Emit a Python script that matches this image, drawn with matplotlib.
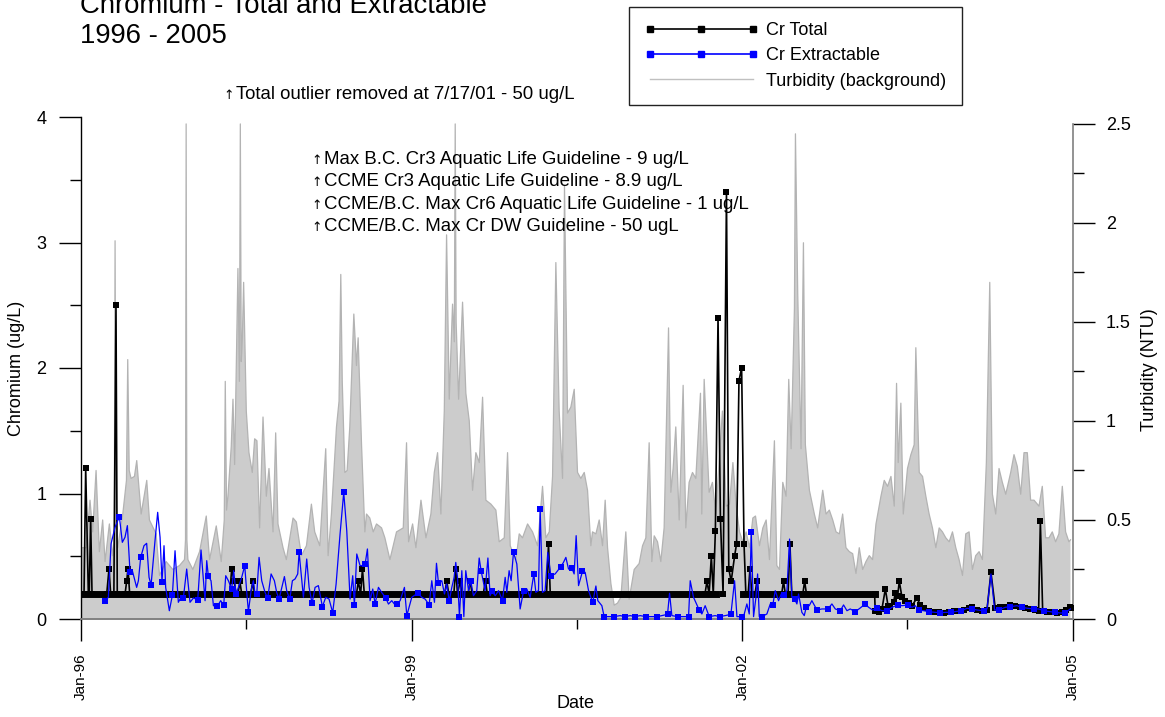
import datetime as dt
import numpy as np
import matplotlib
matplotlib.use("Agg")
import matplotlib.pyplot as plt
import matplotlib.dates as mdates
from matplotlib.lines import Line2D
from matplotlib.ticker import FixedLocator, MultipleLocator, FuncFormatter

plt.rcParams['font.family'] = ['Liberation Sans', 'DejaVu Sans']

# ---------------- data (time in months since 1 Jan 1996) ----------------
turb_month = [
    0.0, 0.55, 0.98, 1.27, 1.64, 2.0, 2.36, 2.62, 3.09, 3.45, 3.62, 3.71, 3.82, 4.0, 4.55, 4.95, 5.09, 5.25,
    5.45, 5.82, 6.07, 6.55, 7.16, 7.45, 8.18, 8.55, 9.27, 10.0, 10.73, 11.27, 11.38, 11.45, 11.53, 11.64,
    12.18, 12.91, 13.64, 14.0, 14.73, 15.27, 15.6, 15.71, 15.85, 16.0, 16.36, 16.55, 16.73, 17.09, 17.25,
    17.35, 17.45, 17.56, 17.71, 18.0, 18.29, 18.65, 18.91, 19.16, 19.45, 19.82, 20.18, 20.47, 20.91, 21.2,
    21.45, 22.0, 22.36, 23.09, 23.45, 24.0, 24.55, 25.09, 25.45, 26.0, 26.65, 26.91, 27.27, 27.82, 28.1,
    28.29, 28.45, 28.73, 28.98, 29.27, 29.71, 30.0, 30.18, 30.55, 30.91, 31.09, 31.45, 31.82, 32.18, 32.73,
    33.09, 33.64, 34.36, 35.09, 35.45, 35.67, 36.11, 36.47, 37.02, 37.56, 38.1, 38.47, 38.83, 39.19, 39.56,
    39.81, 40.1, 40.46, 40.65, 40.75, 40.85, 41.12, 41.55, 41.91, 42.28, 42.64, 43.0, 43.37, 43.73, 44.09,
    44.64, 45.18, 45.54, 46.09, 46.45, 46.74, 46.99, 47.36, 47.72, 48.08, 48.63, 49.17, 49.72, 50.26, 50.62,
    50.99, 51.35, 51.71, 52.07, 52.44, 52.65, 52.98, 53.34, 53.71, 54.07, 54.43, 54.8, 55.16, 55.52, 55.7,
    56.07, 56.43, 56.79, 57.08, 57.34, 57.7, 58.06, 58.42, 58.79, 59.33, 59.69, 60.24, 60.78, 61.15, 61.51,
    61.87, 62.16, 62.42, 62.78, 63.14, 63.5, 63.98, 64.23, 64.48, 64.77, 65.14, 65.57, 65.86, 66.22, 66.59,
    66.95, 67.46, 67.6, 67.86, 68.4, 68.76, 69.13, 69.85, 70.26, 70.62, 70.99, 71.35, 71.71, 72.07, 72.43,
    72.8, 73.16, 73.45, 73.88, 74.25, 74.61, 74.97, 75.51, 75.77, 76.06, 76.42, 76.78, 77.07, 77.33, 77.69,
    77.8, 78.05, 78.41, 78.67, 78.88, 79.32, 79.86, 80.22, 80.77, 81.13, 81.49, 81.86, 82.22, 82.58, 82.94,
    83.3, 83.67, 84.03, 84.39, 84.75, 85.12, 85.48, 85.84, 86.2, 86.57, 87.11, 87.47, 87.83, 88.2, 88.56,
    88.81, 88.99, 89.28, 89.54, 90.0, 90.37, 90.73, 90.91, 91.28, 91.64, 92.0, 92.36, 92.72, 93.09, 93.45,
    93.81, 94.17, 94.54, 94.9, 95.26, 95.62, 95.99, 96.35, 96.71, 97.07, 97.43, 97.8, 98.16, 98.59, 98.96,
    99.25, 99.61, 99.97, 100.33, 100.7, 101.24, 101.6, 101.96, 102.33, 102.69, 103.05, 103.41, 103.78,
    104.32, 104.68, 105.04, 105.41, 105.77, 106.13, 106.49, 106.86, 107.22, 107.58, 107.75]
turb_ntu = [
    0.36, 0.36, 0.60, 0.44, 0.75, 0.34, 0.50, 0.29, 0.48, 0.32, 0.40, 1.91, 0.45, 0.36, 0.53, 0.70, 1.31, 0.75,
    0.71, 0.72, 0.80, 0.53, 0.70, 0.50, 0.43, 0.22, 0.29, 0.25, 0.27, 0.30, 0.40, 2.50, 0.40, 0.30,
    0.25, 0.34, 0.52, 0.30, 0.47, 0.29, 0.50, 1.20, 0.55, 0.62, 0.87, 1.11, 0.78, 1.77, 1.20,
    2.50, 1.30, 1.40, 1.70, 1.05, 0.84, 0.74, 0.91, 0.90, 0.46, 1.02, 0.62, 0.76, 0.44, 0.94,
    0.48, 0.36, 0.30, 0.51, 0.49, 0.32, 0.37, 0.58, 0.44, 0.37, 0.86, 0.32, 0.53, 0.97, 1.10,
    1.74, 1.20, 0.74, 0.75, 0.97, 1.54, 1.28, 1.42, 0.88, 0.44, 0.53, 0.51, 0.44, 0.48, 0.46,
    0.41, 0.30, 0.44, 0.46, 0.89, 0.39, 0.48, 0.36, 0.60, 0.41, 0.53, 0.74, 0.84, 0.53, 1.05,
    1.94, 1.11, 1.59, 1.40, 2.50, 1.50, 1.11, 1.60, 1.14, 1.00, 0.65, 0.84, 0.79, 1.12, 0.60,
    0.58, 0.55, 0.39, 0.41, 0.84, 0.37, 0.34, 0.30, 0.43, 0.41, 0.48, 0.44, 0.37, 0.67, 0.41,
    0.44, 0.72, 1.80, 1.05, 0.71, 2.19, 1.04, 1.07, 1.16, 0.74, 0.71, 0.74, 0.65, 0.37, 0.44,
    0.43, 0.50, 0.37, 0.60, 0.36, 0.18, 0.07, 0.08, 0.11, 0.44, 0.10, 0.25, 0.28, 0.37, 0.41,
    0.89, 0.29, 0.42, 0.39, 0.29, 0.46, 1.47, 0.64, 0.76, 0.97, 0.50, 1.18, 0.46, 0.69, 0.74,
    0.71, 1.14, 0.53, 1.21, 0.64, 0.69, 0.53, 1.05, 0.57, 0.58, 0.79, 0.57, 0.44, 0.39, 0.44,
    0.36, 0.51, 0.52, 0.37, 0.46, 0.50, 0.30, 0.90, 0.27, 0.25, 0.69, 0.62, 1.21, 0.86, 1.57,
    2.45, 1.64, 0.86, 1.90, 0.88, 0.65, 0.53, 0.46, 0.65, 0.53, 0.55, 0.50, 0.44, 0.43, 0.53,
    0.36, 0.34, 0.33, 0.23, 0.36, 0.25, 0.29, 0.32, 0.30, 0.48, 0.62, 0.70, 0.67, 0.72, 0.57,
    1.19, 0.79, 1.09, 0.53, 0.76, 0.83, 0.88, 1.37, 0.74, 0.72, 0.62, 0.53, 0.46, 0.36, 0.46,
    0.44, 0.41, 0.39, 0.44, 0.36, 0.30, 0.22, 0.43, 0.44, 0.25, 0.32, 0.34, 0.30, 0.79, 1.70,
    0.63, 0.53, 0.76, 0.69, 0.63, 0.74, 0.83, 0.77, 0.63, 0.84, 0.84, 0.60, 0.60,
    0.57, 0.67, 0.41, 0.41, 0.44, 0.39, 0.43, 0.67, 0.44, 0.39, 0.40]

# Cr Total: detection-limit (0.2 ug/L) runs and all other samples
tot_dl = 0.2
tot_dl_runs = [(0.0, 69.1), (72.1, 86.42)]
tot_month = [
    0.0, 0.33, 0.51, 0.8, 0.9, 1.05, 1.2, 2.8, 3.05, 3.23, 3.58, 3.81, 3.95, 4.8, 4.97, 5.12, 5.3,
    16.2, 16.41, 16.67, 16.9, 17.1, 17.3, 17.5, 18.5, 18.7, 18.9, 30.0, 30.2, 30.45, 30.65, 30.85,
    39.6, 39.83, 40.05, 40.6, 40.81, 41.0, 41.28, 41.5, 42.15, 42.37, 42.6, 43.8, 44.05, 44.25,
    50.7, 50.91, 51.1, 67.95, 68.16, 68.4, 68.64, 68.85, 69.08, 69.37, 69.63, 69.92, 70.29, 70.54,
    70.8, 71.17, 71.39, 71.65, 71.94, 72.2, 72.4, 72.65, 72.85, 73.05, 73.4, 73.6, 73.8, 76.3, 76.5,
    76.7, 77.0, 77.2, 77.4, 78.6, 78.8, 79.0, 86.42,
    86.49, 86.86, 87.22, 87.59, 87.88, 88.13, 88.49, 88.67, 88.93, 89.11, 89.40, 89.76, 90.12, 90.49,
    91.03, 91.39, 91.76, 92.30, 92.85, 93.39, 93.94, 94.48, 95.03, 95.57, 96.12, 96.66, 97.02, 97.57,
    98.11, 98.66, 99.09, 99.56, 100.11, 100.65, 101.20, 101.74, 102.29, 102.83, 103.38, 103.92,
    104.28, 104.47, 104.72, 105.19, 105.74, 106.28, 106.83, 107.26, 107.66, 107.92]
tot_val = [
    0.2, 0.2, 1.2, 0.2, 0.2, 0.8, 0.2, 0.2, 0.4, 0.2, 0.2, 2.5, 0.2, 0.2, 0.3, 0.4, 0.2,
    0.2, 0.4, 0.3, 0.2, 0.2, 0.3, 0.2, 0.2, 0.3, 0.2, 0.2, 0.3, 0.2, 0.4, 0.2,
    0.2, 0.3, 0.2, 0.2, 0.4, 0.2, 0.3, 0.2, 0.2, 0.3, 0.2, 0.2, 0.3, 0.2,
    0.2, 0.6, 0.2, 0.2, 0.3, 0.2, 0.5, 0.2, 0.7, 2.4, 0.8, 0.2, 3.4, 0.4,
    0.3, 0.5, 0.6, 1.9, 2.0, 0.6, 0.2, 0.2, 0.4, 0.2, 0.2, 0.3, 0.2, 0.2, 0.3,
    0.2, 0.2, 0.6, 0.2, 0.2, 0.3, 0.2, 0.2,
    0.061, 0.053, 0.080, 0.239, 0.106, 0.093, 0.133, 0.207, 0.186, 0.300, 0.173, 0.146, 0.125, 0.106,
    0.167, 0.114, 0.088, 0.066, 0.058, 0.053, 0.050, 0.058, 0.061, 0.066, 0.074, 0.085, 0.093, 0.072,
    0.066, 0.074, 0.372, 0.085, 0.093, 0.098, 0.109, 0.104, 0.098, 0.088, 0.080, 0.072,
    0.066, 0.778, 0.066, 0.058, 0.053, 0.050, 0.053, 0.072, 0.093, 0.088]

# Cr Extractable: all readings; ext_mark = 1 for the marked (composite) samples
ext_month = [
    2.61, 2.98, 3.27, 3.70, 4.18, 4.50, 4.79, 5.05, 5.34, 5.59, 6.06, 6.25, 6.50, 6.86, 7.15, 7.41, 7.63,
    8.06, 8.35, 8.61, 8.82, 9.04, 9.22, 9.62, 9.95, 10.24, 10.60, 10.89, 11.15, 11.51, 11.87, 12.24, 12.71,
    13.07, 13.51, 13.69, 13.87, 14.16, 14.42, 14.85, 15.21, 15.54, 15.76, 16.05, 16.41, 16.63, 16.88,
    17.14, 17.50, 17.83, 18.05, 18.23, 18.52, 18.77, 18.95, 19.14, 19.39, 19.68, 20.04, 20.33, 20.70,
    21.06, 21.31, 21.57, 21.79, 22.15, 22.40, 22.73, 23.02, 23.31, 23.60, 23.75, 24.22, 24.58, 24.84,
    25.16, 25.49, 25.85, 26.29, 26.65, 27.01, 27.41, 27.78, 28.21, 28.61, 28.94, 29.30, 29.59, 29.77,
    30.03, 30.39, 30.65, 30.94, 31.19, 31.48, 31.77, 32.03, 32.39, 32.74, 33.19, 33.48, 33.84, 34.13,
    34.42, 34.75, 35.22, 35.48, 36.02,
    36.67, 37.11, 37.47, 37.91, 38.20, 38.49, 38.71, 38.93, 39.29, 39.58, 39.83, 40.09, 40.38, 40.63,
    40.81, 41.00, 41.21, 41.47, 41.69, 41.90, 42.20, 42.45, 42.74, 43.10, 43.36, 43.58, 44.01, 44.31,
    44.55, 44.74, 45.11, 45.47, 45.90, 46.19, 46.37, 46.62, 46.84, 47.10, 47.46, 47.82, 48.19, 48.55,
    48.91, 49.31, 49.53, 49.82, 50.0, 50.25, 50.54, 50.83, 51.16, 51.63, 52.25, 52.54, 52.80, 53.09,
    53.45, 53.70, 53.92, 54.18, 54.61, 54.90, 55.27, 55.52, 55.74, 56.07, 56.28, 56.72, 56.97, 57.52,
    58.06, 58.71, 59.26, 59.80, 60.35, 60.89, 61.51, 62.16, 62.75, 63.25, 63.87, 64.09, 64.34, 64.96,
    65.54, 66.16, 66.34, 66.70, 67.32, 67.61, 67.97, 68.41, 69.06, 69.54, 70.15, 70.77, 71.17, 71.43,
    71.97,
    72.15, 72.51, 72.77, 72.99, 73.24, 73.50, 73.68, 73.86, 74.15, 74.69, 75.06, 75.34, 75.60, 75.96,
    76.25, 76.51, 76.87, 77.16, 77.41, 77.70, 77.96, 78.14, 78.50, 78.76, 78.97, 79.30, 79.59, 80.14,
    80.68, 81.34, 81.77, 82.14, 82.68, 83.04, 83.41, 83.77, 84.31, 84.86, 85.40, 85.77, 86.20, 86.67,
    87.22, 87.80, 88.31, 88.96, 89.40, 90.05, 90.49, 90.85, 91.21, 91.76, 92.37, 93.03, 93.57, 94.12,
    94.70, 95.39, 95.86, 96.48, 97.02, 97.57, 98.29, 98.66, 99.09, 99.49, 99.93, 100.65, 101.20,
    101.93, 102.47, 103.12, 103.74, 104.28, 104.83, 105.56, 106.03, 106.64, 107.12, 107.73]
ext_val = [
    0.146, 0.173, 0.598, 0.730, 0.815, 0.611, 0.651, 0.744, 0.372, 0.385, 0.252, 0.305, 0.491, 0.584, 0.603, 0.332, 0.271,
    0.624, 0.850, 0.651, 0.295, 0.584, 0.252, 0.066, 0.189, 0.544, 0.133, 0.173, 0.170, 0.398, 0.133, 0.167, 0.154,
    0.550, 0.146, 0.465, 0.340, 0.305, 0.106, 0.101, 0.146, 0.109, 0.345, 0.305, 0.239, 0.385, 0.197,
    0.252, 0.332, 0.425, 0.212, 0.058, 0.226, 0.305, 0.199, 0.199, 0.491, 0.305, 0.212, 0.165, 0.359,
    0.305, 0.212, 0.159, 0.226, 0.338, 0.226, 0.157, 0.305, 0.319, 0.359, 0.531, 0.173, 0.478, 0.252,
    0.125, 0.252, 0.266, 0.098, 0.173, 0.159, 0.050, 0.279, 0.677, 1.009, 0.704, 0.159, 0.345, 0.109,
    0.518, 0.425, 0.425, 0.438, 0.558, 0.146, 0.239, 0.120, 0.252, 0.212, 0.167, 0.119, 0.146, 0.119,
    0.122, 0.146, 0.252, 0.027, 0.173,
    0.207, 0.173, 0.159, 0.114, 0.305, 0.133, 0.444, 0.284, 0.305, 0.199, 0.279, 0.143, 0.252, 0.332,
    0.451, 0.332, 0.019, 0.385, 0.019, 0.385, 0.226, 0.300, 0.186, 0.226, 0.486, 0.380, 0.226, 0.486,
    0.186, 0.220, 0.186, 0.226, 0.146, 0.332, 0.212, 0.385, 0.305, 0.534, 0.438, 0.080, 0.223, 0.239,
    0.173, 0.359, 0.212, 0.226, 0.877, 0.212, 0.226, 0.531, 0.345, 0.359, 0.417, 0.451, 0.491, 0.398,
    0.406, 0.359, 0.664, 0.266, 0.380, 0.372, 0.226, 0.173, 0.138, 0.263, 0.146, 0.106, 0.019, 0.019,
    0.019, 0.027, 0.019, 0.027, 0.019, 0.027, 0.019, 0.019, 0.019, 0.027, 0.037, 0.205, 0.027, 0.019,
    0.019, 0.019, 0.305, 0.173, 0.072, 0.040, 0.106, 0.019, 0.027, 0.019, 0.027, 0.037, 0.305, 0.019,
    0.019,
    0.019, 0.120, 0.040, 0.690, 0.019, 0.173, 0.359, 0.019, 0.019, 0.040, 0.120, 0.114, 0.226, 0.146,
    0.199, 0.191, 0.226, 0.637, 0.173, 0.159, 0.120, 0.199, 0.053, 0.027, 0.093, 0.106, 0.146, 0.072,
    0.080, 0.080, 0.120, 0.080, 0.066, 0.112, 0.066, 0.080, 0.058, 0.088, 0.120, 0.093, 0.072, 0.085,
    0.066, 0.066, 0.093, 0.112, 0.106, 0.112, 0.093, 0.106, 0.072, 0.066, 0.058, 0.053, 0.050, 0.053,
    0.053, 0.061, 0.066, 0.085, 0.080, 0.072, 0.066, 0.080, 0.359, 0.072, 0.072, 0.093, 0.098,
    0.106, 0.093, 0.085, 0.080, 0.080, 0.066, 0.058, 0.053, 0.048, 0.048, 0.080]
ext_mark = [
    1, 0, 0, 0, 1, 0, 0, 0, 1, 0, 0, 0, 1, 0, 0, 0, 1,
    0, 0, 0, 1, 0, 0, 0, 1, 0, 0, 0, 1, 0, 0, 0, 1,
    0, 0, 0, 1, 0, 0, 1, 0, 1, 0, 0, 1, 0, 1,
    0, 0, 1, 0, 1, 0, 0, 0, 1, 0, 0, 0, 1, 0,
    0, 0, 1, 0, 0, 0, 1, 0, 0, 0, 1, 0, 0, 0,
    1, 0, 0, 1, 0, 0, 1, 0, 0, 1, 0, 0, 0, 1,
    0, 0, 0, 1, 0, 0, 0, 1, 0, 0, 1, 0, 0, 0,
    1, 0, 0, 1, 0,
    1, 0, 0, 1, 0, 0, 0, 1, 0, 0, 0, 1, 0, 0,
    0, 0, 1, 0, 0, 0, 0, 1, 0, 0, 0, 1, 0, 0,
    0, 1, 0, 0, 1, 0, 0, 0, 0, 1, 0, 0, 1, 0,
    0, 1, 0, 0, 1, 0, 0, 0, 1, 0, 1, 0, 0, 0,
    1, 0, 0, 0, 1, 0, 0, 0, 1, 0, 0, 0, 1, 0,
    1, 0, 1, 0, 1, 0, 1, 0, 1, 0, 1, 0, 0, 1,
    0, 1, 0, 0, 1, 0, 0, 1, 0, 1, 0, 1, 0, 0,
    1,
    0, 0, 0, 1, 0, 0, 0, 0, 1, 0, 0, 1, 0, 0,
    0, 1, 0, 0, 0, 1, 0, 0, 0, 0, 1, 0, 0, 1,
    0, 1, 0, 0, 1, 0, 0, 0, 1, 0, 1, 0, 0, 1,
    0, 1, 0, 1, 0, 1, 0, 0, 1, 0, 1, 0, 1, 0,
    1, 0, 1, 0, 1, 0, 1, 0, 0, 0, 1, 0, 1,
    0, 1, 0, 1, 0, 1, 0, 1, 0, 1, 0]

x_tick_years = [1996, 1999, 2002, 2005]
x_minor_years = [1997, 2000, 2003]
cr_ticks = [0, 1, 2, 3, 4]
turb_ticks = [0, 0.5, 1, 1.5, 2, 2.5]

title_lines = ["Chromium - Total and Extractable", "1996 - 2005"]
outlier_note = "Total outlier removed at 7/17/01 - 50 ug/L"
guideline_notes = ["Max B.C. Cr3 Aquatic Life Guideline - 9 ug/L",
                   "CCME Cr3 Aquatic Life Guideline - 8.9 ug/L",
                   "CCME/B.C. Max Cr6 Aquatic Life Guideline - 1 ug/L",
                   "CCME/B.C. Max Cr DW Guideline - 50 ugL"]

# ---------------- figure ----------------
W, H = 1165, 717
fig = plt.figure(figsize=(W / 100, H / 100), dpi=100)
L, R, T, B = 81, 1073, 117, 619
ax = fig.add_axes([L / W, 1 - B / H, (R - L) / W, (B - T) / H])
ax2 = ax.twinx()
ax.set_zorder(ax2.get_zorder() + 1)
ax.patch.set_visible(False)

base = mdates.date2num(dt.datetime(1996, 1, 1))


def to_x(months):
    return base + np.asarray(months, dtype=float) * 30.4375


# turbidity background
tx = to_x(turb_month)
ax2.fill_between(tx, turb_ntu, 0, facecolor='#cccccc', edgecolor='none', zorder=1)
ax2.plot(tx, turb_ntu, color='#b3b3b3', lw=0.9, zorder=2)
ax2.set_ylim(0, 2.535)

# Cr total
for a, b in tot_dl_runs:
    ax.plot(to_x([a, b]), [tot_dl, tot_dl], color='black', lw=5.0,
            solid_capstyle='projecting', zorder=3)
ax.plot(to_x(tot_month), tot_val, color='black', lw=1.2, marker='s', ms=5.0,
        mfc='black', mec='black', mew=0, zorder=4)

# Cr extractable
ax.plot(to_x(ext_month), ext_val, color='#0000ff', lw=0.9, zorder=5)
em = [m for m, f in zip(ext_month, ext_mark) if f]
ev = [v for v, f in zip(ext_val, ext_mark) if f]
ax.plot(to_x(em), ev, ls='none', marker='s', ms=5.0, mfc='#0000ff', mec='#0000ff', mew=0, zorder=6)

# axes limits / ticks
ax.set_xlim(mdates.date2num(dt.datetime(1996, 1, 1)), mdates.date2num(dt.datetime(2005, 1, 1)))
ax.set_ylim(0, 4)
ax.xaxis.set_major_locator(FixedLocator([mdates.date2num(dt.datetime(y, 1, 1)) for y in x_tick_years]))
ax.xaxis.set_minor_locator(FixedLocator([mdates.date2num(dt.datetime(y, 7, 1)) for y in x_minor_years]))
ax.xaxis.set_major_formatter(mdates.DateFormatter('%b-%y'))
ax.yaxis.set_major_locator(FixedLocator(cr_ticks))
ax.yaxis.set_minor_locator(MultipleLocator(0.5))
ax2.yaxis.set_major_locator(FixedLocator(turb_ticks))
ax2.yaxis.set_minor_locator(MultipleLocator(0.25))
ax2.yaxis.set_major_formatter(FuncFormatter(lambda v, p: f"{v:g}"))

ax.tick_params(axis='x', which='major', length=15.5, width=1, pad=9, labelsize=11,
               labelrotation=90, color='black')
ax.tick_params(axis='x', which='minor', length=7.5, width=1, color='black')
ax.tick_params(axis='y', which='major', length=15.8, width=1, pad=9, labelsize=13, color='black')
ax.tick_params(axis='y', which='minor', length=7.9, width=1, color='black')
ax2.tick_params(axis='y', which='major', length=15.8, width=1, pad=8, labelsize=13, color='black')
ax2.tick_params(axis='y', which='minor', length=7.9, width=1, color='black')

for s in ['top', 'right']:
    ax.spines[s].set_visible(False)
ax.spines['left'].set_color('black')
ax.spines['left'].set_linewidth(1.0)
ax.spines['bottom'].set_color('#808080')
ax.spines['bottom'].set_linewidth(1.4)
for s in ['top', 'left', 'bottom']:
    ax2.spines[s].set_visible(False)
ax2.spines['right'].set_color('#808080')
ax2.spines['right'].set_linewidth(1.2)
ax2.spines['right'].set_bounds(0, 2.5)

# texts
fig.text(80 / W, 1 - 13 / H, title_lines[0], fontsize=19.8, va='baseline', ha='left')
fig.text(80 / W, 1 - 43 / H, title_lines[1], fontsize=19.8, va='baseline', ha='left')

fig.text(223 / W, 1 - 99 / H, "\u2191", fontsize=9, family='DejaVu Sans', va='baseline')
fig.text(236 / W, 1 - 99 / H, outlier_note, fontsize=13.4, va='baseline')
for i, s in enumerate(guideline_notes):
    yb = 164 + i * 22.3
    fig.text(311 / W, 1 - yb / H, "\u2191", fontsize=9, family='DejaVu Sans', va='baseline')
    fig.text(324 / W, 1 - yb / H, s, fontsize=13.4, va='baseline')

fig.text(17 / W, 1 - 368 / H, "Chromium (ug/L)", rotation=90, ha='center', va='center', fontsize=13)
fig.text(1150 / W, 1 - 370 / H, "Turbidity (NTU)", rotation=90, ha='center', va='center', fontsize=13)
fig.text(576 / W, 1 - 704 / H, "Date", ha='center', va='center', fontsize=13)

# legend
handles = [
    Line2D([], [], color='black', lw=1.2, marker='s', ms=4.8, mfc='black', mec='black'),
    Line2D([], [], color='#0000ff', lw=1.2, marker='s', ms=4.8, mfc='#0000ff', mec='#0000ff'),
    Line2D([], [], color='#c0c0c0', lw=1.0),
]
leg = fig.legend(handles, ["Cr Total", "Cr Extractable", "Turbidity (background)"],
                 loc='upper left', bbox_to_anchor=(629 / W, 1 - 7 / H), numpoints=3,
                 handlelength=6.3, handletextpad=0.45, fontsize=13, labelspacing=0.45,
                 borderpad=0.85, borderaxespad=0, frameon=True, fancybox=False,
                 edgecolor='#222222', framealpha=1)
leg.get_frame().set_linewidth(1.0)

fig.savefig('out.png', dpi=100)
